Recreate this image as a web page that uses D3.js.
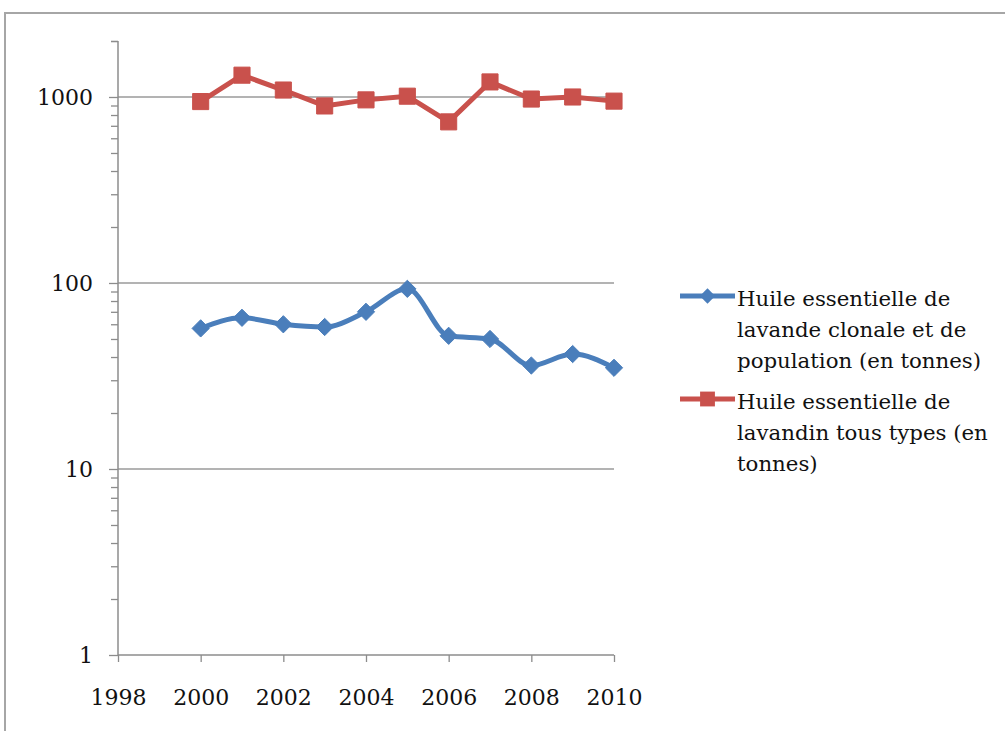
<!DOCTYPE html>
<html>
<head>
<meta charset="utf-8">
<script src="https://cdn.jsdelivr.net/npm/d3@7"></script>
<style>
  html, body { margin: 0; padding: 0; background: #fff; }
  svg { display: block; }
  text { font-family: "DejaVu Serif", serif; fill: #111; }
</style>
</head>
<body>
<svg id="chart" width="1005" height="731"></svg>
<script>
// ---- data ----
const years = [2000, 2001, 2002, 2003, 2004, 2005, 2006, 2007, 2008, 2009, 2010];
const lavande = [57, 65, 60, 58, 70, 93, 52, 50, 36, 41.5, 35];
const lavandin = [945, 1310, 1090, 895, 965, 1010, 735, 1205, 975, 1000, 950];
const seriesNames = [
  ["Huile essentielle de", "lavande clonale et de", "population (en tonnes)"],
  ["Huile essentielle de", "lavandin tous types (en", "tonnes)"]
];
const xTickLabels = [1998, 2000, 2002, 2004, 2006, 2008, 2010];
const yTickLabels = [1, 10, 100, 1000];
const colors = ["#4A7EBB", "#C9514C"];

const svg = d3.select("#chart");

// chart border
svg.append("path")
  .attr("d", "M5,731 L5,13 L1005,13")
  .attr("fill", "none").attr("stroke", "#a6a6a6").attr("stroke-width", 2);

const x = d3.scaleLinear().domain([1998, 2010]).range([118, 614]);
const y = d3.scaleLog().domain([1, 2000]).range([655, 41]);

// gridlines
svg.append("g").selectAll("line")
  .data(yTickLabels.filter(v => v > 1))
  .join("line")
  .attr("x1", x(1998)).attr("x2", x(2010))
  .attr("y1", d => y(d)).attr("y2", d => y(d))
  .attr("stroke", "#9a9a9a").attr("stroke-width", 1.5);

// y axis
const minor = y.ticks().filter(v => !yTickLabels.includes(v)).concat([2000]);
const yAxis = svg.append("g").attr("transform", `translate(${x(1998)},0)`);
yAxis.call(d3.axisLeft(y).tickValues(minor).tickSize(7).tickFormat(""));
yAxis.call(g => g.select(".domain").remove());
const yMajor = svg.append("g").attr("transform", `translate(${x(1998)},0)`)
  .call(d3.axisLeft(y).tickValues(yTickLabels).tickSize(9).tickPadding(16).tickFormat(d3.format("d")));
yMajor.select(".domain").remove();
svg.selectAll(".tick line").attr("stroke", "#8c8c8c").attr("stroke-width", 1.3);
yMajor.selectAll("text").style("font-size", "22px").style("font-family", "DejaVu Serif").attr("fill", "#111").attr("dy", "0.36em");

svg.append("line")
  .attr("x1", x(1998)).attr("x2", x(1998)).attr("y1", y(2000)).attr("y2", y(1))
  .attr("stroke", "#8c8c8c").attr("stroke-width", 1.5);

// x axis
const xAxis = svg.append("g").attr("transform", `translate(0,${y(1)})`)
  .call(d3.axisBottom(x).tickValues(xTickLabels).tickSize(7).tickPadding(27).tickFormat(d3.format("d")));
xAxis.select(".domain").attr("stroke", "#8c8c8c").attr("stroke-width", 1.5).attr("d", `M${x(1998)},0H${x(2010)}`);
xAxis.selectAll(".tick line").attr("stroke", "#8c8c8c").attr("stroke-width", 1.3);
xAxis.selectAll("text").style("font-size", "22px").style("font-family", "DejaVu Serif").attr("fill", "#111");

// lines
const blueLine = d3.line().x((d, i) => x(years[i])).y(d => y(d)).curve(d3.curveMonotoneX);
const redLine = d3.line().x((d, i) => x(years[i])).y(d => y(d));

svg.append("path").datum(lavande).attr("d", blueLine)
  .attr("fill", "none").attr("stroke", colors[0]).attr("stroke-width", 5).attr("stroke-linejoin", "round");
svg.append("path").datum(lavandin).attr("d", redLine)
  .attr("fill", "none").attr("stroke", colors[1]).attr("stroke-width", 5).attr("stroke-linejoin", "round");

const diamond = d3.symbol().type(d3.symbolDiamond2).size(190);
const square = d3.symbol().type(d3.symbolSquare2).size(330);

svg.append("g").selectAll("path").data(lavande).join("path")
  .attr("d", diamond)
  .attr("transform", (d, i) => `translate(${x(years[i])},${y(d)})`)
  .attr("fill", colors[0]).attr("stroke", colors[0]).attr("stroke-width", 1);
svg.append("g").selectAll("path").data(lavandin).join("path")
  .attr("d", square)
  .attr("transform", (d, i) => `translate(${x(years[i])},${y(d)})`)
  .attr("fill", colors[1]).attr("stroke", colors[1]).attr("stroke-width", 1);

// legend
const legendY = [296, 399];
const legend = svg.append("g");
seriesNames.forEach((lines, k) => {
  const g = legend.append("g").attr("transform", `translate(680,${legendY[k]})`);
  g.append("line").attr("x1", 0).attr("x2", 55).attr("y1", 0).attr("y2", 0)
    .attr("stroke", colors[k]).attr("stroke-width", 5);
  g.append("path").attr("d", k === 0 ? d3.symbol().type(d3.symbolDiamond2).size(150)() : d3.symbol().type(d3.symbolSquare2).size(280)())
    .attr("transform", "translate(27.5,0)").attr("fill", colors[k]);
  const t = g.append("text").attr("x", 57).attr("y", 10).style("font-size", "21.3px");
  lines.forEach((s, j) => {
    t.append("tspan").attr("x", 57).attr("dy", j === 0 ? 0 : 31).text(s);
  });
});
</script>
</body>
</html>
